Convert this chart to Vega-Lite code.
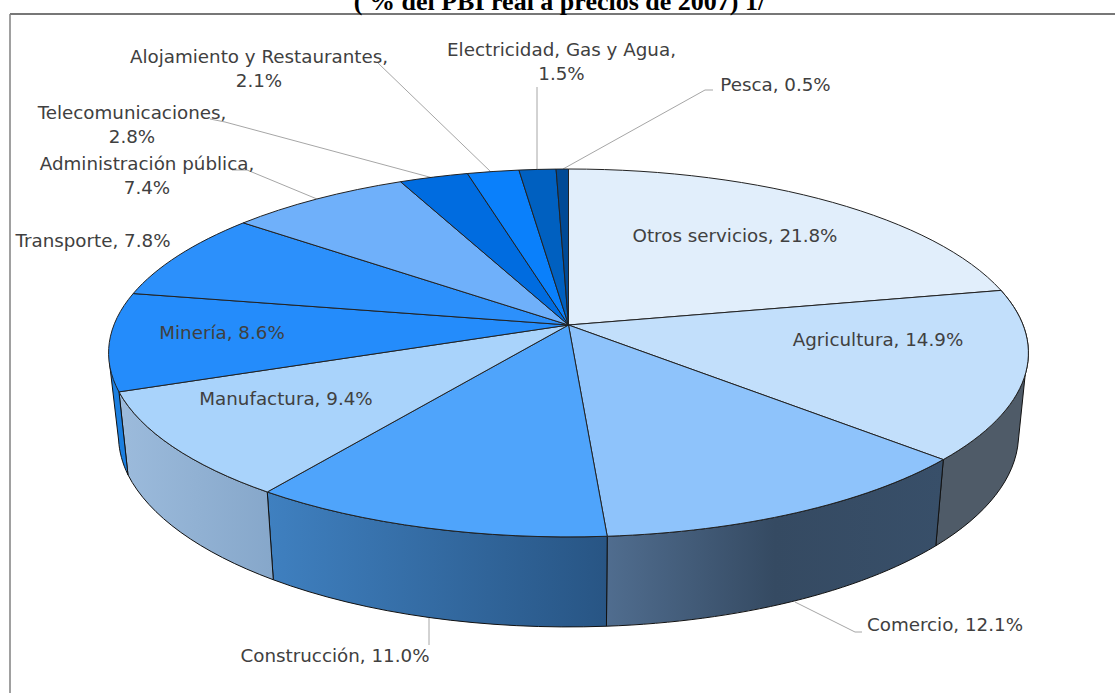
{
"$schema":"https://vega.github.io/schema/vega-lite/v6.json",
"width":1115,"height":693,"padding":0,"autosize":"none","background":"white",
"config":{"view":{"stroke":null}},
"layer":[
{"data":{"values":[{"edge":"top"}]},"mark":{"type":"rule","stroke":"#4a4a4a","strokeWidth":1.5},
 "encoding":{"x":{"datum":-558.5,"type":"quantitative","scale":{"domain":[-568.5,546.5],"nice":false,"zero":false},"axis":null},"x2":{"datum":546.5},"y":{"datum":-311,"type":"quantitative","scale":{"domain":[368,-325],"nice":false,"zero":false},"axis":null}}},
{"data":{"values":[{"edge":"left"}]},"mark":{"type":"rule","stroke":"#808080","strokeWidth":1.5},
 "encoding":{"x":{"datum":-558.5,"type":"quantitative","axis":null},"y":{"datum":-311,"type":"quantitative","axis":null},"y2":{"datum":368}}},
{"data":{"values":[{"title":"( % del PBI real a precios de 2007) 1/"}]},
 "mark":{"type":"text","font":"Liberation Serif","fontWeight":"bold","fontSize":26,"color":"#000000","align":"center","baseline":"alphabetic"},
 "encoding":{"text":{"field":"title"},"x":{"datum":-9,"type":"quantitative","axis":null},"y":{"datum":-315,"type":"quantitative","axis":null}}},
{"data":{"values":[
{"sector":"Otros servicios","share":21.8},
{"sector":"Agricultura","share":14.9},
{"sector":"Comercio","share":12.1},
{"sector":"Construcción","share":11.0},
{"sector":"Manufactura","share":9.4},
{"sector":"Minería","share":8.6},
{"sector":"Transporte","share":7.8},
{"sector":"Administración pública","share":7.4},
{"sector":"Telecomunicaciones","share":2.8},
{"sector":"Alojamiento y Restaurantes","share":2.1},
{"sector":"Electricidad, Gas y Agua","share":1.5},
{"sector":"Pesca","share":0.5}
]},
"transform":[
{"joinaggregate":[{"op":"sum","field":"share","as":"total"}]},
{"window":[{"op":"sum","field":"share","as":"c1"}],"frame":[null,0]},
{"calculate":"2*PI*(datum.c1-datum.share)/datum.total","as":"a0"},
{"calculate":"2*PI*datum.c1/datum.total","as":"a1"},
{"calculate":"454.6*sin(datum.a0)/(1+0.152*cos(datum.a0))","as":"px0"},
{"calculate":"-179.7*cos(datum.a0)/(1+0.152*cos(datum.a0))","as":"py0"},
{"calculate":"454.6*sin(datum.a1)/(1+0.152*cos(datum.a1))","as":"px1"},
{"calculate":"-179.7*cos(datum.a1)/(1+0.152*cos(datum.a1))","as":"py1"},
{"calculate":"round(datum.px0*100)/100+' '+round(datum.py0*100)/100","as":"p0"},
{"calculate":"round(datum.px1*100)/100+' '+round(datum.py1*100)/100","as":"p1"},
{"calculate":"round(98*datum.px0)/100+' '+round(100*(109+193*(datum.py0-28)/184))/100","as":"q0"},
{"calculate":"round(98*datum.px1)/100+' '+round(100*(109+193*(datum.py1-28)/184))/100","as":"q1"},
{"calculate":"'M0 0L'+datum.p0+'A460 184 0 0 1 '+datum.p1+'Z'","as":"topPath"},
{"calculate":"datum.sector==='Agricultura'?'M'+datum.p0+'A460 184 0 0 1 '+datum.p1+'L'+datum.q1+'A450 193 0 0 0 449.9 115L457.5 42Z':datum.sector==='Minería'?'M'+datum.p0+'L'+datum.q0+'A450 193 0 0 1 -449.9 115L-459 38Z':'M'+datum.p0+'A460 184 0 0 1 '+datum.p1+'L'+datum.q1+'A450 193 0 0 0 '+datum.q0+'Z'","as":"wallPath"},
{"calculate":"datum.sector+','+(indexof(['Alojamiento y Restaurantes','Telecomunicaciones','Administración pública','Electricidad, Gas y Agua'],datum.sector)>=0?'\\n':' ')+format(datum.share,'.1f')+'%'","as":"label"},
{"calculate":"{'Otros servicios':[166.5,-88],'Agricultura':[309.5,16],'Comercio':[376.5,301],'Construcción':[-233.5,332],'Manufactura':[-282.5,75],'Minería':[-346.5,9],'Transporte':[-475.5,-83],'Administración pública':[-421.5,-160],'Telecomunicaciones':[-436.5,-211],'Alojamiento y Restaurantes':[-309.5,-267],'Electricidad, Gas y Agua':[-7,-274],'Pesca':[207,-239]}[datum.sector]","as":"lp"},
{"calculate":"datum.lp[0]","as":"lx"},
{"calculate":"datum.lp[1]","as":"ly"}
],
"layer":[
{"transform":[
  {"filter":{"field":"sector","oneOf":["Alojamiento y Restaurantes","Telecomunicaciones","Administración pública","Electricidad, Gas y Agua","Pesca","Comercio","Construcción"]}},
  {"calculate":"{'Alojamiento y Restaurantes':[[-190.5,-262,0],[-77.5,-153,1]],'Telecomunicaciones':[[-358.5,-206,0],[-343.5,-203,1],[-135.5,-147,2]],'Administración pública':[[-336.5,-155,0],[-321.5,-155,1],[-251.5,-126,2]],'Electricidad, Gas y Agua':[[-31.5,-238,0],[-31.5,-155,1]],'Pesca':[[144.5,-235,0],[136.5,-235,1],[-5.5,-156,2]],'Comercio':[[226.5,277,0],[286.5,307,1],[293.5,307,2]],'Construcción':[[-139.5,293,0],[-139.5,320,1]]}[datum.sector]","as":"pts"},
  {"flatten":["pts"]},
  {"calculate":"datum.pts[0]","as":"vx"},{"calculate":"datum.pts[1]","as":"vy"},{"calculate":"datum.pts[2]","as":"vi"}],
 "mark":{"type":"line","stroke":"#a6a6a6","strokeWidth":1},
 "encoding":{"x":{"field":"vx","type":"quantitative","axis":null},"y":{"field":"vy","type":"quantitative","axis":null},"detail":{"field":"sector"},"order":{"field":"vi","type":"quantitative"}}},
{"transform":[{"filter":"datum.sector==='Agricultura'"}],
 "mark":{"type":"point","filled":true,"opacity":1,"stroke":"#111111","strokeWidth":1,"fill":"#4f5b68"},
 "encoding":{"x":{"datum":0,"type":"quantitative","axis":null},"y":{"datum":0,"type":"quantitative","axis":null},"shape":{"field":"wallPath","type":"nominal","scale":null},"size":{"value":4}}},
{"transform":[{"filter":"datum.sector==='Comercio'"}],
 "mark":{"type":"point","filled":true,"opacity":1,"stroke":"#111111","strokeWidth":1,"fill":{"gradient":"linear","x1":0,"x2":1,"y1":0,"y2":0,"stops":[{"offset":0,"color":"#506d8f"},{"offset":0.5,"color":"#354a62"},{"offset":1,"color":"#384f69"}]}},
 "encoding":{"x":{"datum":0,"type":"quantitative","axis":null},"y":{"datum":0,"type":"quantitative","axis":null},"shape":{"field":"wallPath","type":"nominal","scale":null},"size":{"value":4}}},
{"transform":[{"filter":"datum.sector==='Construcción'"}],
 "mark":{"type":"point","filled":true,"opacity":1,"stroke":"#111111","strokeWidth":1,"fill":{"gradient":"linear","x1":0,"x2":1,"y1":0,"y2":0,"stops":[{"offset":0,"color":"#3f80c0"},{"offset":1,"color":"#285584"}]}},
 "encoding":{"x":{"datum":0,"type":"quantitative","axis":null},"y":{"datum":0,"type":"quantitative","axis":null},"shape":{"field":"wallPath","type":"nominal","scale":null},"size":{"value":4}}},
{"transform":[{"filter":"datum.sector==='Manufactura'"}],
 "mark":{"type":"point","filled":true,"opacity":1,"stroke":"#111111","strokeWidth":1,"fill":{"gradient":"linear","x1":0,"x2":1,"y1":0,"y2":0,"stops":[{"offset":0,"color":"#9cbbdc"},{"offset":1,"color":"#86a7ca"}]}},
 "encoding":{"x":{"datum":0,"type":"quantitative","axis":null},"y":{"datum":0,"type":"quantitative","axis":null},"shape":{"field":"wallPath","type":"nominal","scale":null},"size":{"value":4}}},
{"transform":[{"filter":"datum.sector==='Minería'"}],
 "mark":{"type":"point","filled":true,"opacity":1,"stroke":"#111111","strokeWidth":1,"fill":"#1b7fe0"},
 "encoding":{"x":{"datum":0,"type":"quantitative","axis":null},"y":{"datum":0,"type":"quantitative","axis":null},"shape":{"field":"wallPath","type":"nominal","scale":null},"size":{"value":4}}},
{"mark":{"type":"point","filled":true,"opacity":1,"stroke":"#222222","strokeWidth":1},
 "encoding":{"x":{"datum":0,"type":"quantitative","axis":null},"y":{"datum":0,"type":"quantitative","axis":null},"shape":{"field":"topPath","type":"nominal","scale":null},"size":{"value":4},
 "fill":{"field":"sector","type":"nominal","legend":null,"scale":{"domain":["Otros servicios","Agricultura","Comercio","Construcción","Manufactura","Minería","Transporte","Administración pública","Telecomunicaciones","Alojamiento y Restaurantes","Electricidad, Gas y Agua","Pesca"],"range":["#e1eefb","#c2dffb","#8ec3fb","#4fa4fb","#a9d3fb","#248cfb","#2c90fb","#6fb0fa","#006ce0","#0a80fb","#0060c0","#004a96"]}}}},
{"mark":{"type":"text","font":"DejaVu Sans","fontSize":18.3,"color":"#404040","align":"center","baseline":"middle","lineBreak":"\n","lineHeight":24},
 "encoding":{"text":{"field":"label"},"x":{"field":"lx","type":"quantitative","axis":null},"y":{"field":"ly","type":"quantitative","axis":null}}}
]}
]
}
